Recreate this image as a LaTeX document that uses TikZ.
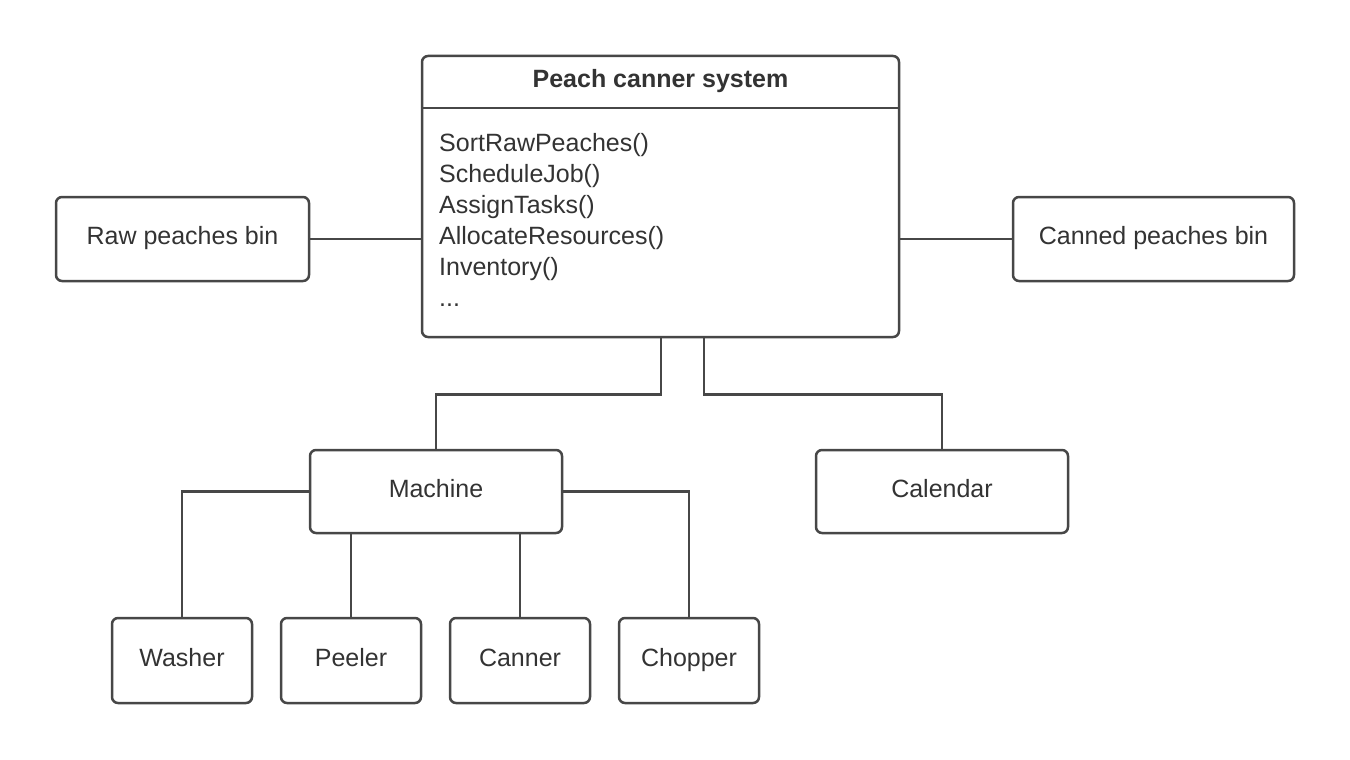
\documentclass[tikz,border=0pt]{standalone}
\usepackage{fontspec}
\setmainfont{Liberation Sans}
\definecolor{linec}{HTML}{474747}
\definecolor{textc}{HTML}{333333}
\begin{document}
\begin{tikzpicture}[x=1pt,y=-1pt,
  box/.style={draw=linec, line width=2.5pt, rounded corners=6pt, fill=white, inner sep=0pt, text height=16pt, text depth=5pt, font=\fontsize{25}{30}\selectfont, text=textc},
  txt/.style={inner sep=0pt, font=\fontsize{25}{30}\selectfont, text=textc},
  conn/.style={draw=linec, line width=2.5pt}]
\useasboundingbox (0,0) rectangle (1350,760);
% main class box
\node[box, minimum width=477pt, minimum height=281pt] (main) at (660.5,196.5) {};
\draw[conn] (main.west |- 0,108) -- (main.east |- 0,108);
\node[txt, anchor=base, font=\fontsize{25}{30}\selectfont\bfseries] (title) at (660.5,87.5) {Peach canner system};
\node[txt, anchor=base west] (m1) at (439,151.7) {SortRawPeaches()};
\node[txt, anchor=base west] (m2) at (439,182.7) {ScheduleJob()};
\node[txt, anchor=base west] (m3) at (439,213.7) {AssignTasks()};
\node[txt, anchor=base west] (m4) at (439,244.7) {AllocateResources()};
\node[txt, anchor=base west] (m5) at (439,275.7) {Inventory()};
\node[txt, anchor=base west] (m6) at (439,306.7) {...};
% side boxes
\node[box, minimum width=253pt, minimum height=84pt] (raw) at (182.5,239) {Raw peaches bin};
\node[box, minimum width=281pt, minimum height=84pt] (canned) at (1153.5,239) {Canned peaches bin};
% second level
\node[box, minimum width=252pt, minimum height=83pt] (machine) at (436,491.5) {Machine};
\node[box, minimum width=252pt, minimum height=83pt] (calendar) at (942,491.5) {Calendar};
% third level
\node[box, minimum width=140pt, minimum height=85pt] (washer) at (182,660.5) {Washer};
\node[box, minimum width=140pt, minimum height=85pt] (peeler) at (351,660.5) {Peeler};
\node[box, minimum width=140pt, minimum height=85pt] (canner) at (520,660.5) {Canner};
\node[box, minimum width=140pt, minimum height=85pt] (chopper) at (689,660.5) {Chopper};
% connectors
\draw[conn] (raw.east) -- (main.west |- raw.east);
\draw[conn] (main.east |- canned.west) -- (canned.west);
\draw[conn] ([xshift=0.5pt]main.south) -- ++(0,56) -| (machine.north);
\draw[conn] ([xshift=43.5pt]main.south) -- ++(0,56) -| (calendar.north);
\draw[conn] (machine.west) -| (washer.north);
\draw[conn] (machine.east) -| (chopper.north);
\draw[conn] (machine.south -| peeler.north) -- (peeler.north);
\draw[conn] (machine.south -| canner.north) -- (canner.north);
\end{tikzpicture}
\end{document}
